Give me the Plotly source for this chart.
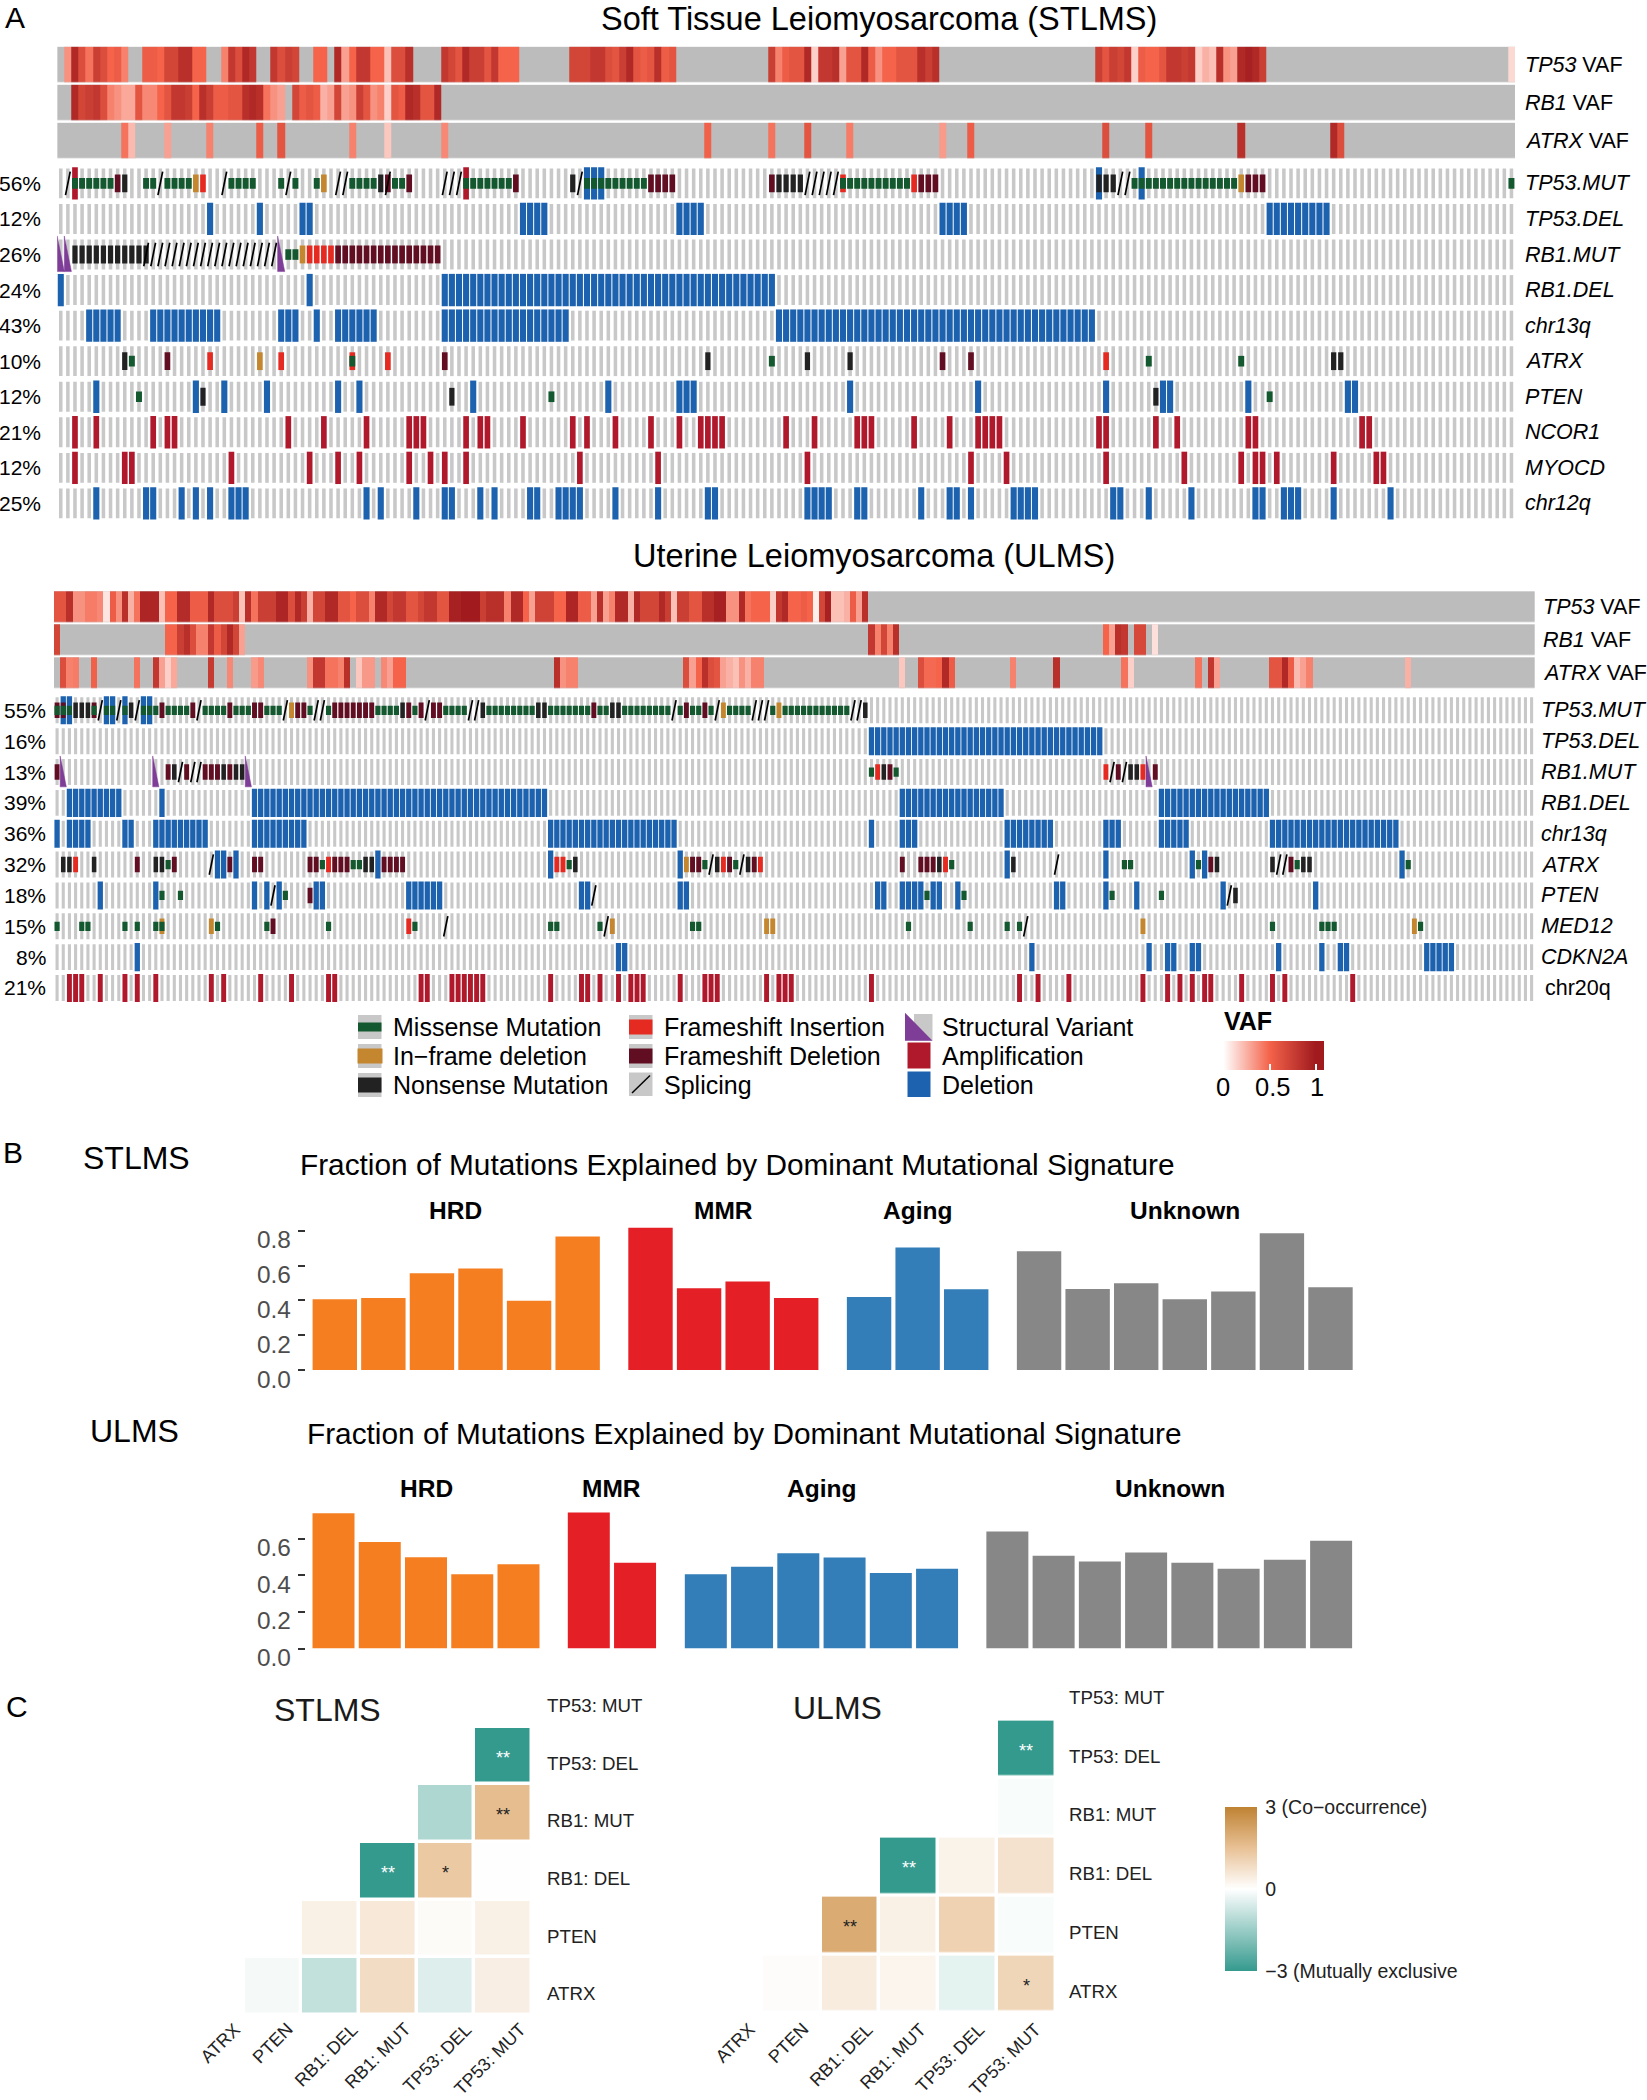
import plotly.graph_objects as go

W, H = 1647, 2100
FONT = "Liberation Sans"

# ---------- panel A : data ----------
ST_N = 205
UL_N = 240

ST_TP53_VAF = {1:.35,2:.9,3:.65,4:.45,5:.75,6:.65,7:.5,8:.55,9:.4,12:.55,13:.55,14:.5,15:.7,16:.7,17:.85,18:.85,19:.5,20:.5,
 23:.4,24:.8,25:.65,26:.9,27:.8,30:.8,31:.65,32:.75,33:.7,36:.5,37:.5,39:.9,40:.3,41:.5,42:.8,43:.8,44:.5,45:.5,46:.2,47:.65,48:.65,49:.85,
 54:.8,55:.7,56:.6,57:.9,58:.75,59:.75,60:.6,61:.8,62:.5,63:.5,64:.5,72:.7,73:.7,74:.7,75:.8,76:.8,77:.65,78:.6,79:.75,80:.9,81:.6,82:.55,83:.6,84:.85,85:.55,86:.6,
 100:.75,101:.4,102:.55,103:.6,104:.6,105:.9,106:.15,107:.8,108:.8,109:.85,110:.3,111:.6,112:.6,113:.9,114:.55,115:.35,116:.5,117:.5,118:.6,119:.6,120:.6,121:.85,122:.75,123:.85,
 146:.75,147:.6,148:.75,149:.7,150:.8,151:.15,152:.55,153:.5,154:.5,155:.6,156:.8,157:.8,158:.75,159:.8,160:.15,161:.25,162:.2,163:.85,164:.35,165:.3,166:.9,167:.95,168:.9,169:.75,204:.12}
ST_RB1_VAF = {2:.9,3:.7,4:.75,5:.8,6:.65,7:.4,8:.35,9:.28,10:.28,11:.6,12:.38,13:.38,14:.5,15:.6,16:.8,17:.8,18:.75,19:.5,20:.85,21:.75,22:.55,23:.55,24:.6,25:.6,26:.85,27:.9,28:.85,29:.45,30:.35,31:.3,
 33:.7,34:.55,35:.6,36:.55,37:.25,38:.3,39:.7,40:.3,41:.35,42:.75,43:.6,44:.35,45:.4,46:.15,47:.6,48:.55,49:.9,50:.85,51:.6,52:.6,53:.9}
ST_ATRX_VAF = {9:.45,10:.22,15:.3,21:.4,28:.55,31:.6,41:.4,46:.18,54:.38,91:.52,100:.45,105:.6,111:.42,124:.32,128:.55,147:.65,153:.6,166:.85,179:.9,180:.65}

UL_TP53_VAF = {0:.6,1:.6,2:.85,3:.35,4:.35,5:.42,6:.42,7:.38,8:.08,9:.55,10:.35,11:.85,12:.25,13:.45,14:.92,15:.92,16:.92,17:.2,18:.5,19:.5,20:.88,21:.88,22:.55,23:.55,24:.55,25:.9,26:.65,27:.65,28:.65,29:.75,30:.2,
 31:.85,32:.45,33:.75,34:.75,35:.75,36:.92,37:.92,38:.65,39:.9,40:.75,41:.25,42:.7,43:.7,44:.9,45:.9,46:.6,47:.6,48:.5,49:.65,50:.65,51:.4,52:.9,53:.9,54:.7,55:.8,56:.8,57:.6,58:.6,59:.7,60:.8,61:.8,62:.6,63:.6,
 64:.95,65:.95,66:1,67:1,68:1,69:.75,70:.85,71:.85,72:.85,73:.4,74:.9,75:.9,76:.5,77:.3,78:.72,79:.72,80:.72,81:.5,82:.5,83:.92,84:.92,85:.55,86:.55,87:.3,88:.85,89:.3,90:.4,91:.9,92:.9,93:.25,94:.9,95:.7,96:.7,97:.7,98:.9,99:.75,
 100:.2,101:.75,102:.75,103:.6,104:.6,105:.85,106:.85,107:.95,108:.95,109:.35,110:.35,111:.9,112:.45,113:.5,114:.5,115:.5,116:.15,117:.8,118:.9,119:.5,120:.5,121:.55,122:.5,123:.05,124:.7,125:.95,126:.2,127:.2,128:.25,129:.55,130:.3,131:.85}
UL_RB1_VAF = {0:.7,18:.5,19:.5,20:.75,21:.85,22:.65,23:.4,24:.4,25:.8,26:.55,27:.7,28:.9,29:.7,30:.3,132:.8,133:.4,134:.7,135:.4,136:.85,170:.5,171:.3,172:.85,173:.8,175:.68,176:.68,178:.1}
UL_ATRX_VAF = {1:.65,2:.4,3:.42,6:.52,13:.45,16:.8,17:.3,18:.15,19:.28,25:.78,28:.38,32:.32,33:.38,41:.35,42:.8,43:.8,44:.45,45:.45,46:.4,47:.85,49:.18,50:.33,51:.33,53:.38,54:.3,55:.5,56:.5,
 81:.85,82:.35,83:.4,84:.4,102:.65,103:.3,104:.5,105:.85,106:.65,107:.6,108:.3,109:.25,110:.2,111:.35,112:.25,113:.4,114:.4,137:.18,140:.65,141:.48,142:.48,143:.5,144:.9,145:.55,
 155:.4,162:.85,173:.45,174:.15,185:.45,187:.8,188:.3,197:.6,198:.6,199:.9,200:.55,201:.22,202:.3,203:.4,219:.25}

# alteration codes: M missense, O in-frame, N nonsense, I fs insertion, F fs deletion,
# S splicing, V structural variant, A amplification, D deletion.  Tuples are (first, last) column runs.
ST_ROWS = ["TP53.MUT","TP53.DEL","RB1.MUT","RB1.DEL","chr13q","ATRX","PTEN","NCOR1","MYOCD","chr12q"]
ST_PCT = ["56%","12%","26%","24%","43%","10%","12%","21%","12%","25%"]
ST_TP53_MUT = {"S":[1,14,23,32,39,40,46,54,55,56,73,(105,109),149,150],
 "A":[2,57],"D":[(74,76),146,152],
 "M":[(2,7),12,13,(15,18),(24,27),31,33,36,(41,44),47,48,(57,63),(74,82),(110,119),(151,165),204],
 "F":[8,46,49,64,(83,86),100,(121,123),(167,169)],
 "N":[9,45,72,(101,104),(146,148)],"O":[19,37,166],"I":[20,110,120]}
ST_TP53_DEL = {"D":[21,28,34,35,(65,68),(87,90),(124,127),(170,178)]}
ST_RB1_MUT = {"V":[0,1,31],"N":[(2,12)],"S":[(12,30)],"M":[32,33],"O":[34],"I":[(35,38)],"F":[(39,53)]}
ST_RB1_DEL = {"D":[0,35,(54,100)]}
ST_CHR13Q = {"D":[(4,8),(13,22),(31,33),36,(39,44),(54,71),(101,145)]}
ST_ATRX = {"N":[9,91,105,111,179,180],"M":[10,41,100,153,166],"F":[15,54,124,128],"I":[21,31,41,46,147],"O":[28]}
ST_PTEN = {"D":[5,19,23,29,39,42,58,77,(87,89),111,129,147,155,156,167,181,182],"M":[11,69,170],"N":[20,55,154]}
ST_NCOR1 = {"A":[2,5,13,15,16,32,37,43,(49,51),57,59,60,65,72,74,78,83,87,(90,93),102,106,(112,114),120,125,(129,132),146,147,154,157,167,168,183,184]}
ST_MYOCD = {"A":[2,9,10,24,35,39,42,49,52,54,57,73,84,105,128,133,147,158,166,168,169,171,179,185,186]}
ST_CHR12Q = {"D":[5,12,13,17,19,21,(24,26),43,45,50,54,55,59,61,66,67,(70,73),78,84,91,92,(105,108),112,113,121,125,126,128,(134,137),148,149,153,159,168,169,(172,174),179,187]}
ST_DATA = [ST_TP53_MUT,ST_TP53_DEL,ST_RB1_MUT,ST_RB1_DEL,ST_CHR13Q,ST_ATRX,ST_PTEN,ST_NCOR1,ST_MYOCD,ST_CHR12Q]

UL_ROWS = ["TP53.MUT","TP53.DEL","RB1.MUT","RB1.DEL","chr13q","ATRX","PTEN","MED12","CDKN2A","chr20q"]
UL_PCT = ["55%","16%","13%","39%","36%","32%","18%","15%","8%","21%"]
UL_TP53_MUT = {"D":[1,2,8,9,11,14,15],
 "M":[0,1,2,6,8,9,11,14,15,16,(18,21),(24,27),(29,31),(34,36),41,44,(52,55),58,(63,66),(70,77),(80,86),88,89,(92,99),101,103,104,106,(109,112),116,(118,128)],
 "F":[0,1,6,17,22,28,32,33,39,40,(45,51),57,59,61,62,87,102,105],
 "N":[(3,5),12,56,69,78,79,90,91,131],
 "S":[7,10,13,23,37,42,43,60,67,68,100,107,(113,115),129,130],"O":[38,108,117]}
UL_TP53_DEL = {"D":[(132,169)]}
UL_RB1_MUT = {"F":[0,18,21,24,25,26,28,135,172,178],"V":[1,16,31,177],"N":[19,27,29,30,134,174,175],"S":[20,22,23,171,173],"M":[132,136],"I":[133,170,176]}
UL_RB1_DEL = {"D":[(2,10),17,(32,79),(137,153),(179,196)]}
UL_CHR13Q = {"D":[0,(2,5),11,12,(16,24),(32,40),(80,100),132,(137,139),(154,161),(170,172),(179,183),(197,217)]}
UL_ATRX = {"D":[26,27,29,52,80,101,154,170,184,186,218],
 "N":[1,2,6,16,17,50,51,84,107,112,143,155,188,197,202,203],"I":[3,44,81,82,108,114,144],
 "F":[13,19,28,32,33,41,42,(45,47),(53,56),103,104,109,113,137,(140,142),187,200],
 "M":[18,43,48,49,83,105,110,145,173,174,185,201,219],"S":[25,106,111,162,198,199],"O":[102]}
UL_PTEN = {"D":[7,16,32,34,36,42,43,(57,62),85,86,101,102,133,134,(137,140),142,143,146,162,163,170,175,189,204],
 "M":[17,20,37,141,147,171,179],"S":[35,87,190],"F":[41],"N":[191]}
UL_MED12 = {"M":[0,4,5,11,13,16,17,26,34,44,58,80,81,88,103,104,138,148,154,156,197,(205,207),221],
 "O":[17,25,90,115,116,176,220],"F":[35],"I":[57],"S":[63,89,157]}
UL_CDKN2A = {"D":[13,91,92,158,177,180,181,184,185,198,205,208,209,(222,226)]}
UL_CHR20Q = {"A":[(2,4),7,11,13,16,25,27,33,38,44,45,59,60,(64,69),80,85,86,88,91,(93,95),101,(105,107),115,(117,119),132,156,159,164,176,180,182,184,186,187,192,197,199,210]}
UL_DATA = [UL_TP53_MUT,UL_TP53_DEL,UL_RB1_MUT,UL_RB1_DEL,UL_CHR13Q,UL_ATRX,UL_PTEN,UL_MED12,UL_CDKN2A,UL_CHR20Q]

# ---------- panel B : data ----------
GROUPS = ["HRD","MMR","Aging","Unknown"]
ST_HRD = [.406,.414,.556,.583,.398,.767]
ST_MMR = [.818,.470,.509,.414]
ST_AGING = [.420,.704,.464]
ST_UNKNOWN = [.683,.466,.498,.406,.451,.786,.476]
UL_HRD = [.738,.582,.499,.405,.460]
UL_MMR = [.742,.468]
UL_AGING = [.405,.446,.520,.497,.413,.436]
UL_UNKNOWN = [.639,.506,.475,.524,.469,.436,.485,.588]

# ---------- panel C : data ----------
C_COLS = ["ATRX","PTEN","RB1: DEL","RB1: MUT","TP53: DEL","TP53: MUT"]
C_ROWS = ["TP53: MUT","TP53: DEL","RB1: MUT","RB1: DEL","PTEN","ATRX"]
N_ = None
ST_ODDS = [[N_,N_,N_,N_,N_,N_],
           [N_,N_,N_,N_,N_,-3],
           [N_,N_,N_,N_,-1.2,1.6],
           [N_,N_,N_,-3,1.3,.02],
           [N_,N_,.35,.55,.1,.35],
           [N_,-.15,-.9,.85,-.5,.4]]
UL_ODDS = [[N_,N_,N_,N_,N_,N_],
           [N_,N_,N_,N_,N_,-3],
           [N_,N_,N_,N_,N_,-.1],
           [N_,N_,N_,-3,.3,.7],
           [N_,N_,2.0,.35,1.1,-.1],
           [N_,.07,.45,.25,-.4,1.0]]
ST_STARS = [("TP53: DEL","TP53: MUT","**"),("RB1: MUT","TP53: MUT","**"),("RB1: DEL","RB1: MUT","**"),("RB1: DEL","TP53: DEL","*")]
UL_STARS = [("TP53: DEL","TP53: MUT","**"),("RB1: DEL","RB1: MUT","**"),("PTEN","RB1: DEL","**"),("ATRX","TP53: MUT","*")]

# ---------- styles ----------
COL = {"M":"#14582f","O":"#c4872f","N":"#222222","I":"#e52a22","F":"#610d22","A":"#b0192c","D":"#1d62ae","V":"#7e3d97"}
BG_GREY = "#c8c8c8"
VAF_GREY = "#bcbcbc"
VMIN, VMAX = -0.07, 1.09
def vnorm(v): return (v-VMIN)/(VMAX-VMIN)
VAF_SCALE = [[0,"#ffffff"],[vnorm(0),"#ffffff"],[vnorm(.5),"#f4634a"],[vnorm(1),"#a01a1e"],[1,"#a01a1e"]]
ODDS_SCALE = [[0,"#359a8e"],[.5,"#ffffff"],[.75,"#e8c195"],[1,"#bf8233"]]

fig = go.Figure()
annots, shapes = [], []

def px(x): return x/W
def py(y): return 1-y/H

def text(x, y, s, size, anchor="left", color="#000000"):
    annots.append(dict(x=px(x), y=py(y), xref="paper", yref="paper", text=s, showarrow=False,
                       font=dict(family=FONT, size=size, color=color), xanchor=anchor, yanchor="middle", borderpad=0))

def expand(items):
    out = []
    for it in items:
        if isinstance(it, tuple):
            out.extend(range(it[0], it[1]+1))
        else:
            out.append(it)
    return out

def axes(n, left, right, top, bottom, xr, yr):
    sx = "xaxis" if n == 1 else f"xaxis{n}"
    sy = "yaxis" if n == 1 else f"yaxis{n}"
    tag = "" if n == 1 else str(n)
    fig.layout[sx] = dict(domain=[px(left),px(right)], range=xr, visible=False, anchor="y"+tag, fixedrange=True)
    fig.layout[sy] = dict(domain=[py(bottom),py(top)], range=yr, visible=False, anchor="x"+tag, fixedrange=True)
    return "x"+tag, "y"+tag

def vaf_panel(n, left, right, top, bottom, N, tracks, labels, label_x, showscale):
    xa, ya = axes(n, left, right, top, bottom, [-0.5,N-0.5], [2.5,-0.5])
    cols = list(range(N))
    gap = (bottom-top)/3*0.07
    fig.add_heatmap(x=cols, y=[0,1,2], z=[[1]*N]*3, colorscale=[[0,VAF_GREY],[1,VAF_GREY]], showscale=False, ygap=gap,
                    xaxis=xa, yaxis=ya, hoverinfo="skip")
    z = [[t.get(c) for c in cols] for t in tracks]
    hm = dict(x=cols, y=[0,1,2], z=z, colorscale=VAF_SCALE, zmin=VMIN, zmax=VMAX, zauto=False, ygap=gap, xaxis=xa, yaxis=ya,
              hoverinfo="skip", showscale=showscale)
    if showscale:
        hm["colorbar"] = dict(orientation="h", x=px(1217), xanchor="left", y=py(1040.7), yanchor="top", len=107, lenmode="pixels",
                              thickness=28.5, thicknessmode="pixels", xpad=0, ypad=0, outlinewidth=0,
                              tickvals=[0,.5,1], showticklabels=False, ticks="inside", ticklen=6, tickcolor="#ffffff", tickwidth=1.5)
    fig.add_heatmap(**hm)
    for r, lab in enumerate(labels):
        annots.append(dict(x=px(label_x), y=r, xref="paper", yref=ya, text=f"<i>{lab}</i> VAF", showarrow=False,
                           font=dict(family=FONT,size=21.5,color="#000000"), xanchor="left", yanchor="middle", borderpad=0))

def onco_panel(n, left, right, top, bottom, N, rows, pcts, data, label_x, pct_x):
    xa, ya = axes(n, left, right, top, bottom, [-0.5,N-0.5], [9.5,-0.5])
    # background stripes
    bx, by = [], []
    for r in range(len(rows)):
        bx += list(range(N)); by += [r]*N
    H_BG, H_TALL, H_MIS, H_FS = .84, .91, .30, .50
    fig.add_bar(x=bx, base=[r-H_BG/2 for r in by], y=[H_BG]*len(bx), width=.5, marker=dict(color=BG_GREY,line_width=0),
                xaxis=xa, yaxis=ya, hoverinfo="skip", showlegend=False)
    heights = {"A":H_TALL,"D":H_TALL,"I":H_FS,"F":H_FS,"N":H_FS,"O":H_FS,"M":H_MIS}
    widths = {"A":.8,"D":.86,"I":.8,"F":.8,"N":.74,"O":.8,"M":.84}
    for code in ["A","D","I","F","O","N","M"]:
        xs, rs = [], []
        for r, d in enumerate(data):
            cs = expand(d.get(code, []))
            xs += cs; rs += [r]*len(cs)
        if xs:
            h = heights[code]
            fig.add_bar(x=xs, base=[r-h/2 for r in rs], y=[h]*len(xs), width=widths[code], marker=dict(color=COL[code],line_width=0),
                        xaxis=xa, yaxis=ya, hoverinfo="skip", showlegend=False)
    # splicing slashes and structural-variant wedges
    lx, ly, tx, ty = [], [], [], []
    for r, d in enumerate(data):
        for c in expand(d.get("S", [])):
            lx += [c-.33, c+.33, None]; ly += [r+.33, r-.33, None]
        for c in expand(d.get("V", [])):
            tx += [c-.5, c-.5, c+.5, c-.5, None]; ty += [r-.52, r+.48, r+.48, r-.52, None]
    fig.add_scatter(x=lx, y=ly, mode="lines", line=dict(color="#000000",width=1.7), xaxis=xa, yaxis=ya, hoverinfo="skip", showlegend=False)
    fig.add_scatter(x=tx, y=ty, mode="lines", fill="toself", fillcolor=COL["V"], line=dict(color=COL["V"],width=0.5), xaxis=xa, yaxis=ya, hoverinfo="skip", showlegend=False)
    for r, (lab, p) in enumerate(zip(rows, pcts)):
        plain = lab == "chr20q"
        annots.append(dict(x=px(label_x+(3.5 if plain else 0)), y=r, xref="paper", yref=ya, text=lab if plain else f"<i>{lab}</i>", showarrow=False,
                           font=dict(family=FONT,size=21.5,color="#000000"), xanchor="left", yanchor="middle", borderpad=0))
        annots.append(dict(x=px(pct_x), y=r, xref="paper", yref=ya, text=p, showarrow=False,
                           font=dict(family=FONT,size=21,color="#000000"), xanchor="right", yanchor="middle", borderpad=0))

# Panel A
text(4, 18, "A", 30)
text(878.5, 18.5, "Soft Tissue Leiomyosarcoma (STLMS)", 32.5, "center")
vaf_panel(2, 57.2, 1515, 45.8, 160, ST_N, [ST_TP53_VAF,ST_RB1_VAF,ST_ATRX_VAF], ["TP53","RB1","ATRX"], 1524, True)
onco_panel(1, 57.2, 1515, 165.6, 521.2, ST_N, ST_ROWS, ST_PCT, ST_DATA, 1524, 42)
text(874, 555.5, "Uterine Leiomyosarcoma (ULMS)", 32.5, "center")
vaf_panel(4, 54, 1534.7, 590.3, 689.7, UL_N, [UL_TP53_VAF,UL_RB1_VAF,UL_ATRX_VAF], ["TP53","RB1","ATRX"], 1541.5, False)
onco_panel(3, 54, 1534.7, 694.9, 1003.4, UL_N, UL_ROWS, UL_PCT, UL_DATA, 1540, 46.6)

# Legend
LEG_COL1 = ["Missense Mutation","In\u2212frame deletion","Nonsense Mutation"]
LEG_COL2 = ["Frameshift Insertion","Frameshift Deletion","Splicing"]
LEG_COL3 = ["Structural Variant","Amplification","Deletion"]
LEG_Y = [1027,1056,1085]
def rect(x0,y0,x1,y1,c):
    shapes.append(dict(type="rect",xref="paper",yref="paper",x0=px(x0),x1=px(x1),y0=py(y0),y1=py(y1),fillcolor=c,line_width=0,layer="above"))
for y, code, hh in zip(LEG_Y, ["M","O","N"], [4.5,7.5,7.5]):
    rect(358,y-12,381.5,y+12,BG_GREY)
    rect(357.5 if code=="O" else 358,y-hh,382.5 if code=="O" else 381.5,y+hh,COL[code])
for y, code in zip(LEG_Y[:2], ["I","F"]):
    rect(629,y-12,652.5,y+12,BG_GREY)
    rect(629,y-7.5,652.5,y+7.5,COL[code])
rect(629,1072.5,652.5,1096,BG_GREY)
shapes.append(dict(type="line",xref="paper",yref="paper",x0=px(632),y0=py(1093),x1=px(650),y1=py(1075.5),line=dict(color="#000000",width=1.5)))
rect(914,1014,932.5,1040.5,BG_GREY)
shapes.append(dict(type="path",xref="paper",yref="paper",fillcolor=COL["V"],line_width=0,
                   path=f"M {px(905)} {py(1012.7)} L {px(905)} {py(1040.7)} L {px(932.5)} {py(1040.7)} Z"))
rect(907.5,1042.5,930.5,1068.5,COL["A"])
rect(907.5,1071.5,930.5,1097,COL["D"])
for xt, labs in [(392.4,LEG_COL1),(663,LEG_COL2),(941,LEG_COL3)]:
    for y, lab in zip(LEG_Y, labs):
        text(xt, y, lab, 25)
text(1248, 1021, "<b>VAF</b>", 25, "center")
for xt, lab in [(1223,"0"),(1272.7,"0.5"),(1316.7,"1")]:
    text(xt, 1086.5, lab, 25.5, "center")

# Panel B
GROUP_COLORS = ["#f57e20","#e41f26","#337eb8","#878787"]
def bar_panel(n, left, right, top, bottom, x0px, pitch, per_unit, groups, offsets, bw, ticks, group_px, group_y):
    xr = [(left-x0px)/pitch, (right-x0px)/pitch]
    xa, ya = axes(n, left, right, top, bottom, xr, [0,(bottom-top)/per_unit])
    tag = xa[1:]
    for vals, off, c in zip(groups, offsets, GROUP_COLORS):
        fig.add_bar(x=[off+i for i in range(len(vals))], y=vals, width=bw, marker=dict(color=c,line_width=0), xaxis=xa, yaxis=ya,
                    hoverinfo="skip", showlegend=False)
    fig.layout["yaxis"+tag].update(visible=True, showline=False, showgrid=False, zeroline=False, ticks="outside", ticklen=7, tickwidth=1.5,
                                   tickcolor="#333333", tickvals=ticks, showticklabels=False)
    for t in ticks:
        annots.append(dict(x=px(292), y=t, xref="paper", yref=ya, yshift=-9, text=f"{t:.1f}", showarrow=False,
                           font=dict(family=FONT,size=24.4,color="#4d4d4d"), xanchor="right", yanchor="middle", borderpad=0))
    for g, gx in zip(GROUPS, group_px):
        text(gx, group_y, f"<b>{g}</b>", 24.5, "center")

text(2, 1152, "B", 30)
text(82, 1157.5, "STLMS", 32)
text(299, 1164, "Fraction of Mutations Explained by Dominant Mutational Signature", 29.8)
bar_panel(5, 306, 1360, 1220, 1370, 334.8, 48.57, 174, [ST_HRD,ST_MMR,ST_AGING,ST_UNKNOWN], [0,6.5,11,14.5], .914, [0,.2,.4,.6,.8], [455,723,917,1185], 1210)
text(89, 1431, "ULMS", 32)
text(306, 1433.5, "Fraction of Mutations Explained by Dominant Mutational Signature", 29.8)
bar_panel(6, 306, 1360, 1510, 1648.6, 333.5, 46.25, 183.3, [UL_HRD,UL_MMR,UL_AGING,UL_UNKNOWN], [0,5.52,8.05,14.57], .908, [0,.2,.4,.6], [426,611.6,821,1170], 1488.6)

# Panel C
def odds_panel(n, left, right, top, bottom, z, stars, label_x, xshifts, showscale):
    xa, ya = axes(n, left, right, top, bottom, [-0.5,5.5], [5.5,-0.5])
    tag = xa[1:]
    fig.layout["xaxis"+tag].update(type="category", categoryorder="array", categoryarray=C_COLS)
    fig.layout["yaxis"+tag].update(type="category", categoryorder="array", categoryarray=C_ROWS)
    hm = dict(x=C_COLS, y=C_ROWS, z=z, colorscale=ODDS_SCALE, zmin=-3, zmax=3, zauto=False, xgap=3.5, ygap=3.5, xaxis=xa, yaxis=ya,
              hoverinfo="skip", showscale=showscale)
    if showscale:
        hm["colorbar"] = dict(x=px(1225), xanchor="left", y=py(1806.7), yanchor="top", len=164, lenmode="pixels", thickness=31.6, thicknessmode="pixels",
                              xpad=0, ypad=0, outlinewidth=0, tickvals=[-3,0,3], ticks="",
                              ticktext=["\u2009\u22123 (Mutually exclusive","\u20090","\u20093 (Co\u2212occurrence)"], tickfont=dict(family=FONT,size=19.5,color="#222222"))
    fig.add_heatmap(**hm)
    for r in C_ROWS:
        annots.append(dict(x=px(label_x), y=r, xref="paper", yref=ya, yshift=-7.5, text=r, showarrow=False,
                           font=dict(family=FONT,size=18.7,color="#222222"), xanchor="left", yanchor="middle", borderpad=0))
    for c, xs in zip(C_COLS, xshifts):
        annots.append(dict(x=c, y=py(2018), xref=xa, yref="paper", xshift=xs, text=c, textangle=-45, showarrow=False,
                           font=dict(family=FONT,size=18,color="#222222"), xanchor="right", yanchor="top", borderpad=0))
    for r, c, s in stars:
        light = r == "TP53: DEL" or (r, c) == ("RB1: DEL","RB1: MUT")
        annots.append(dict(x=c, y=r, xref=xa, yref=ya, text=s, showarrow=False, yshift=-2,
                           font=dict(family=FONT,size=18,color="#ffffff" if light else "#222222"), xanchor="center", yanchor="middle", borderpad=0))

text(5, 1706, "C", 30)
text(272.7, 1710, "STLMS", 32, color="#1a1a1a")
odds_panel(7, 186, 532, 1669, 2015, ST_ODDS, ST_STARS, 545.5, [31,26,33,28,31,28], False)
text(792, 1708, "ULMS", 32, color="#1a1a1a")
odds_panel(8, 703, 1055.6, 1660.6, 2012.9, UL_ODDS, UL_STARS, 1068, [28,23,28,23,22,20], True)

fig.update_layout(width=W, height=H, margin=dict(l=0,r=0,t=0,b=0,pad=0), paper_bgcolor="#ffffff", plot_bgcolor="#ffffff",
                  barmode="overlay", showlegend=False, annotations=annots, shapes=shapes, font=dict(family=FONT), hovermode=False)
fig.write_html("out.html", post_script="document.body.style.margin='0';document.documentElement.style.margin='0';", config=dict(displayModeBar=False))
